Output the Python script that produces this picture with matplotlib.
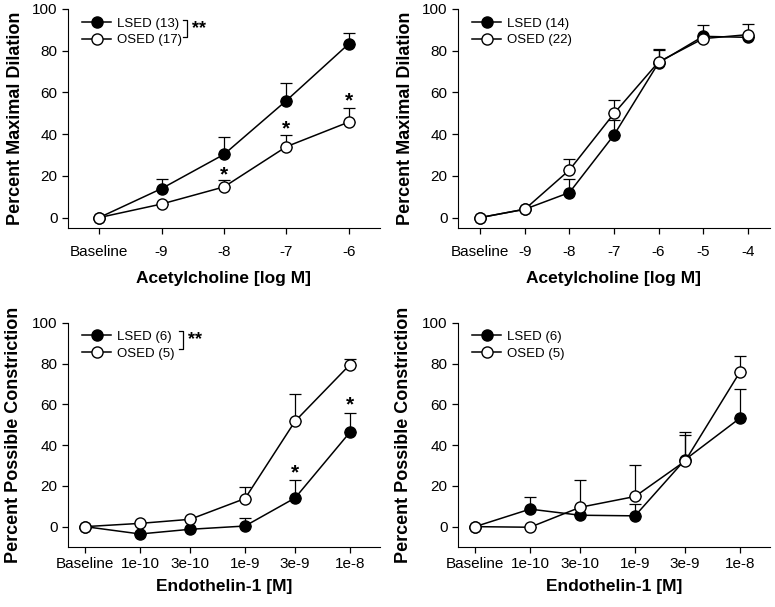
import matplotlib
matplotlib.use("Agg")
import matplotlib.pyplot as plt
import numpy as np

plt.rcParams['font.family'] = ['Liberation Sans', 'DejaVu Sans']

# panel A: acetylcholine, short exposure
ach_x_a = [-10, -9, -8, -7, -6]
ach_lbl_a = ["Baseline", "-9", "-8", "-7", "-6"]
lsed_a = [0, 13.9, 30.3, 56.1, 83.3]
lsed_a_err = [0, 4.8, 8.5, 8.5, 5.0]
osed_a = [0, 6.5, 14.7, 34.0, 45.8]
osed_a_err = [0, 0, 3.2, 5.5, 6.8]
star_x_a = [-8, -7, -6]
star_y_a = [20.5, 42.5, 56]

# panel B: acetylcholine, full range
ach_x_b = [-10, -9, -8, -7, -6, -5, -4]
ach_lbl_b = ["Baseline", "-9", "-8", "-7", "-6", "-5", "-4"]
lsed_b = [0, 4.0, 12.0, 39.6, 74.2, 86.9, 86.4]
lsed_b_err = [0, 0, 6.3, 7.0, 6.3, 5.6, 0]
osed_b = [0, 4.0, 22.8, 49.9, 74.6, 85.8, 87.7]
osed_b_err = [0, 0, 5.4, 6.7, 6.4, 0, 5.1]

# panels C/D: endothelin-1
et_x = [3e-11, 1e-10, 3e-10, 1e-9, 3e-9, 1e-8]
et_lbl = ["Baseline", "1e-10", "3e-10", "1e-9", "3e-9", "1e-8"]
lsed_c = [0, -3.6, -1.3, 0.3, 14.1, 46.4]
lsed_c_err = [0, 0, 0, 3.8, 8.6, 9.5]
osed_c = [0, 1.6, 3.6, 13.8, 51.8, 79.6]
osed_c_err = [0, 0, 0, 5.6, 13.2, 2.5]
star_x_c = [3e-9, 1e-8]
star_y_c = [26.5, 60]

lsed_d = [0, 8.6, 5.6, 5.3, 32.9, 53.3]
lsed_d_err = [0, 5.9, 0, 5.9, 13.6, 14.1]
osed_d = [0, -0.3, 9.5, 14.8, 32.2, 76.0]
osed_d_err = [0, 0, 13.5, 15.6, 12.8, 7.6]

fig = plt.figure(figsize=(7.75, 6.07), dpi=100)
W, H = 775.0, 607.0


def make_ax(l, r, t, b):
    return fig.add_axes([l / W, 1 - b / H, (r - l) / W, (b - t) / H])


def draw(ax, x, ys, errs, labels, leg_y):
    for y, e in zip(ys, errs):
        ax.errorbar(x, y, yerr=[np.zeros(len(e)), e], fmt='none', ecolor='black',
                    elinewidth=0.9, capsize=4, capthick=0.9, zorder=1)
    for y in ys:
        ax.plot(x, y, color='black', lw=1.1, zorder=2)
    ax.plot(x, ys[0], 'o', ms=8, mfc='black', mec='black', mew=1, zorder=3)
    ax.plot(x, ys[1], 'o', ms=8, mfc='white', mec='black', mew=1, zorder=3)
    p1, = ax.plot([], [], 'o-', ms=8, mfc='black', mec='black', color='black', lw=1.1)
    p2, = ax.plot([], [], 'o-', ms=8, mfc='white', mec='black', color='black', lw=1.1)
    ax.legend([p1, p2], labels, loc='upper left', bbox_to_anchor=(0.045, leg_y),
              frameon=False, fontsize=9.5, handlelength=2.2, handletextpad=0.45,
              labelspacing=0.32, borderpad=0, borderaxespad=0)
    for s in ['top', 'right']:
        ax.spines[s].set_visible(False)
    ax.set_yticks([0, 20, 40, 60, 80, 100])
    ax.tick_params(labelsize=11, length=4, width=0.9)


def bracket(ax, x, y0, y1):
    ax.plot([x - 0.012, x, x, x - 0.012], [y0, y0, y1, y1], color='black', lw=0.9,
            transform=ax.transAxes, clip_on=False)
    ax.text(x + 0.015, (y0 + y1) / 2, "**", transform=ax.transAxes, fontsize=13,
            fontweight='bold', ha='left', va='center')


# A
ax1 = make_ax(68, 380, 9, 228)
draw(ax1, ach_x_a, [lsed_a, osed_a], [lsed_a_err, osed_a_err], ["LSED (13)", "OSED (17)"], 0.96)
ax1.set_xlim(-10.5, -5.5)
ax1.set_ylim(-5, 100)
ax1.set_xticks(ach_x_a)
ax1.set_xticklabels(ach_lbl_a)
ax1.tick_params(axis='x', pad=8)
ax1.set_xlabel("Acetylcholine [log M]", fontsize=12.5, fontweight='bold', labelpad=9)
ax1.set_ylabel("Percent Maximal Dilation", fontsize=13, fontweight='bold', labelpad=6)
for sx, sy in zip(star_x_a, star_y_a):
    ax1.text(sx, sy, "*", fontsize=15, fontweight='bold', ha='center', va='center')
bracket(ax1, 0.381, 0.95, 0.872)

# B
ax2 = make_ax(458, 770, 9, 228)
draw(ax2, ach_x_b, [lsed_b, osed_b], [lsed_b_err, osed_b_err], ["LSED (14)", "OSED (22)"], 0.96)
ax2.set_xlim(-10.5, -3.5)
ax2.set_ylim(-5, 100)
ax2.set_xticks(ach_x_b)
ax2.set_xticklabels(ach_lbl_b)
ax2.tick_params(axis='x', pad=8)
ax2.set_xlabel("Acetylcholine [log M]", fontsize=12.5, fontweight='bold', labelpad=9)
ax2.set_ylabel("Percent Maximal Dilation", fontsize=13, fontweight='bold', labelpad=6)

# C
ax3 = make_ax(68, 380, 323, 547)
ax3.set_xscale('log')
draw(ax3, et_x, [lsed_c, osed_c], [lsed_c_err, osed_c_err], ["LSED (6)", "OSED (5)"], 0.965)
ax3.set_xlim(2.06e-11, 1.93e-8)
ax3.set_ylim(-10, 100)
ax3.set_xticks(et_x)
ax3.set_xticklabels(et_lbl)
ax3.minorticks_off()
ax3.tick_params(axis='x', pad=3)
ax3.set_xlabel("Endothelin-1 [M]", fontsize=12.5, fontweight='bold', labelpad=6)
ax3.set_ylabel("Percent Possible Constriction", fontsize=13, fontweight='bold', labelpad=7)
for sx, sy in zip(star_x_c, star_y_c):
    ax3.text(sx, sy, "*", fontsize=15, fontweight='bold', ha='center', va='center')
bracket(ax3, 0.369, 0.965, 0.884)

# D
ax4 = make_ax(458, 770, 323, 547)
ax4.set_xscale('log')
draw(ax4, et_x, [lsed_d, osed_d], [lsed_d_err, osed_d_err], ["LSED (6)", "OSED (5)"], 0.965)
ax4.set_xlim(2.06e-11, 1.93e-8)
ax4.set_ylim(-10, 100)
ax4.set_xticks(et_x)
ax4.set_xticklabels(et_lbl)
ax4.minorticks_off()
ax4.tick_params(axis='x', pad=3)
ax4.set_xlabel("Endothelin-1 [M]", fontsize=12.5, fontweight='bold', labelpad=6)
ax4.set_ylabel("Percent Possible Constriction", fontsize=13, fontweight='bold', labelpad=7)

fig.savefig("out.png", dpi=100)
